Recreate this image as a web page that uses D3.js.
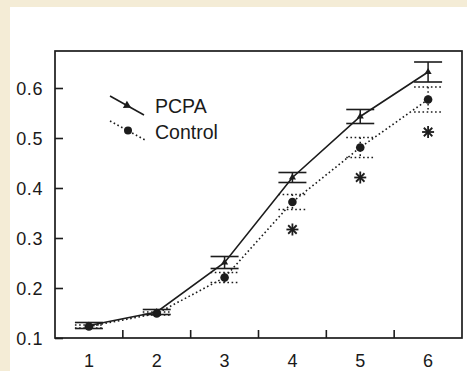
<!DOCTYPE html>
<html><head><meta charset="utf-8">
<script src="https://cdn.jsdelivr.net/npm/d3@7"></script>
<style>
html,body{margin:0;padding:0;background:#f4ecd6;}
svg{display:block;}
text{font-family:"Liberation Sans",Arial,Helvetica,sans-serif;fill:#1a1a1a;}
</style></head>
<body>
<svg id="chart" width="467" height="371"></svg>
<script>
// ---- data ----
const categories = ["1","2","3","4","5","6"];
const pcpaMean  = [0.125, 0.152, 0.251, 0.421, 0.543, 0.632];
const pcpaErr   = [0.006, 0.005, 0.012, 0.010, 0.014, 0.020];
const ctrlMean  = [0.123, 0.149, 0.221, 0.372, 0.481, 0.577];
const ctrlErr   = [0.003, 0.003, 0.010, 0.015, 0.020, 0.025];
const significant = [false, false, false, true, true, true];
const yTicks = [0.1, 0.2, 0.3, 0.4, 0.5, 0.6];
const seriesNames = ["PCPA", "Control"];

(function(){
const svg = d3.select("#chart");
const ink = "#1c1c1c";

// white panel
svg.append("rect").attr("x",10).attr("y",7).attr("width",457).attr("height",364).attr("fill","#ffffff");

const mLeft = 55, mRight = 462, mTop = 51, mBottom = 338;
const x = d3.scaleBand().domain(categories).range([mLeft, mRight]);
const y = d3.scaleLinear().domain([0.1, 0.674]).range([mBottom, mTop]);
const cx = i => x(categories[i]) + x.bandwidth()/2;

// axes with inward ticks
const yAxis = d3.axisLeft(y).tickValues(yTicks).tickSize(-8).tickPadding(20).tickFormat(d3.format(".1f"));
const gy = svg.append("g").attr("transform",`translate(${mLeft},0)`).call(yAxis);
gy.select(".domain").remove();
gy.selectAll(".tick line").attr("stroke",ink).attr("stroke-width",1.6);
gy.selectAll(".tick text").attr("font-size",18).attr("dy","0.36em").attr("x",-12).attr("fill",ink).style("letter-spacing","0.6px");

const xAxis = d3.axisBottom(x).tickSize(0).tickPadding(20);
const gx = svg.append("g").attr("transform",`translate(0,${mBottom})`).call(xAxis);
gx.select(".domain").remove();
gx.selectAll(".tick text").attr("font-size",18).attr("fill",ink).attr("dy","0.71em").attr("y",16);
// boundary ticks between bands
const bounds = categories.slice(1).map(c => x(c));
svg.append("g").selectAll("line").data(bounds).join("line")
  .attr("x1",d=>d).attr("x2",d=>d).attr("y1",mBottom).attr("y2",mBottom-8)
  .attr("stroke",ink).attr("stroke-width",1.6);

// frame
svg.append("rect").attr("x",mLeft).attr("y",mTop).attr("width",mRight-mLeft).attr("height",mBottom-mTop)
  .attr("fill","none").attr("stroke",ink).attr("stroke-width",1.7);

const capW = 14;
const dotted = "1.6,2.6";

// Control series (dotted)
const line = d3.line().x((d,i)=>cx(i)).y(d=>y(d));
svg.append("path").datum(ctrlMean).attr("d",line).attr("fill","none")
  .attr("stroke",ink).attr("stroke-width",1.6).attr("stroke-dasharray",dotted);
const cg = svg.append("g").selectAll("g").data(ctrlMean).join("g");
cg.append("line").attr("x1",(d,i)=>cx(i)).attr("x2",(d,i)=>cx(i))
  .attr("y1",(d,i)=>y(d+ctrlErr[i])).attr("y2",(d,i)=>y(d-ctrlErr[i]))
  .attr("stroke",ink).attr("stroke-width",1.5).attr("stroke-dasharray",dotted);
[1,-1].forEach(s=>{
  cg.append("line").attr("x1",(d,i)=>cx(i)-capW).attr("x2",(d,i)=>cx(i)+capW)
    .attr("y1",(d,i)=>y(d+s*ctrlErr[i])).attr("y2",(d,i)=>y(d+s*ctrlErr[i]))
    .attr("stroke",ink).attr("stroke-width",1.6).attr("stroke-dasharray",dotted);
});
cg.append("circle").attr("cx",(d,i)=>cx(i)).attr("cy",d=>y(d)).attr("r",4.3).attr("fill",ink);

// PCPA series (solid)
svg.append("path").datum(pcpaMean).attr("d",line).attr("fill","none")
  .attr("stroke",ink).attr("stroke-width",1.6);
const pg = svg.append("g").selectAll("g").data(pcpaMean).join("g");
pg.append("line").attr("x1",(d,i)=>cx(i)).attr("x2",(d,i)=>cx(i))
  .attr("y1",(d,i)=>y(d+pcpaErr[i])).attr("y2",(d,i)=>y(d-pcpaErr[i]))
  .attr("stroke",ink).attr("stroke-width",1.5);
[1,-1].forEach(s=>{
  pg.append("line").attr("x1",(d,i)=>cx(i)-capW).attr("x2",(d,i)=>cx(i)+capW)
    .attr("y1",(d,i)=>y(d+s*pcpaErr[i])).attr("y2",(d,i)=>y(d+s*pcpaErr[i]))
    .attr("stroke",ink).attr("stroke-width",1.6);
});
const tri = d3.symbol().type(d3.symbolTriangle).size(22);
pg.append("path").attr("d",tri).attr("transform",(d,i)=>`translate(${cx(i)},${y(d)})`).attr("fill",ink);

// significance asterisks
const star = (g)=>{
  [0,45,90,135].forEach(a=>{
    g.append("line").attr("x1",-6).attr("x2",6).attr("y1",0).attr("y2",0)
      .attr("transform",`rotate(${a})`).attr("stroke",ink).attr("stroke-width",1.8);
  });
};
ctrlMean.forEach((d,i)=>{
  if(!significant[i]) return;
  const g = svg.append("g").attr("transform",`translate(${cx(i)},${y(d-ctrlErr[i])+20})`);
  star(g);
});

// legend
const lg = svg.append("g");
lg.append("line").attr("x1",110).attr("y1",96).attr("x2",144).attr("y2",115)
  .attr("stroke",ink).attr("stroke-width",1.6);
lg.append("path").attr("d",d3.symbol().type(d3.symbolTriangle).size(30))
  .attr("transform","translate(127,105.5) rotate(119)").attr("fill",ink);
lg.append("text").attr("x",155).attr("y",113).attr("font-size",19.5).text(seriesNames[0]);
lg.append("line").attr("x1",110).attr("y1",121).attr("x2",145).attr("y2",140)
  .attr("stroke",ink).attr("stroke-width",1.6).attr("stroke-dasharray",dotted);
lg.append("circle").attr("cx",128).attr("cy",130.5).attr("r",4).attr("fill",ink);
lg.append("text").attr("x",155).attr("y",138.5).attr("font-size",19.5).text(seriesNames[1]);
})();
</script>
</body></html>
